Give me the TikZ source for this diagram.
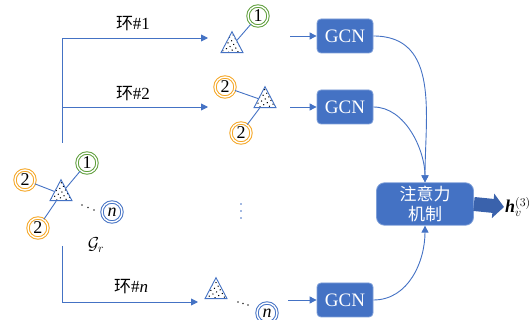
\documentclass[tikz,border=0pt]{standalone}
\usepackage{fontspec}
\setmainfont{Liberation Serif}
\newfontfamily\cjk{Noto Sans CJK SC}
\usetikzlibrary{arrows.meta,shapes.geometric,patterns.meta}
\definecolor{lineblue}{HTML}{4472C4}
\definecolor{boxblue}{HTML}{4472C4}
\definecolor{boxedge}{HTML}{7E9FD8}
\definecolor{darkblue}{HTML}{3A62AC}
\definecolor{ringgreen}{HTML}{5E9E3A}
\definecolor{ringorange}{HTML}{F5A623}
\definecolor{ringblue}{HTML}{4472C4}
\begin{document}
\begin{tikzpicture}[x=1pt,y=-1pt,
  link/.style={lineblue, line width=0.9pt},
  flow/.style={lineblue, line width=0.9pt, -{Triangle[length=7pt,width=7pt]}},
  ring/.style={circle, draw=#1, double=white, double distance=1.4pt, line width=1pt,
    minimum size=20pt, inner sep=0pt, font=\fontsize{18}{18}\selectfont},
  tri/.style={isosceles triangle, isosceles triangle stretches, shape border rotate=90,
    minimum width=22pt, minimum height=21pt, inner sep=0pt, draw=lineblue, line width=0.9pt,
    preaction={fill=white}, pattern={Dots[distance=4.2pt,radius=0.75pt,angle=30]}, pattern color=black},
  gcn/.style={rectangle, rounded corners=4pt, fill=boxblue, draw=boxedge, line width=0.8pt,
    minimum width=56pt, minimum height=34pt, text=white, font=\fontsize{19}{19}\selectfont},
  attbox/.style={rectangle, rounded corners=8pt, fill=boxblue, draw=boxedge, line width=0.8pt,
    minimum width=97pt, minimum height=41pt, text=white, align=center,
    font=\cjk\fontsize{17}{20}\selectfont},
  ringtext/.style={font=\fontsize{17}{17}\selectfont},
  dotmark/.style={circle, fill=#1, inner sep=0pt, minimum size=1.8pt}
]
\useasboundingbox (0,0) rectangle (531,320);

% ---- input graph G_r ----
\node[tri] (t0) at (61,194) {};
\node[ring=ringgreen] (a1) at (87,163) {1};
\node[ring=ringorange] (a2) at (25,180) {2};
\node[ring=ringorange] (a3) at (38,228) {2};
\node[ring=ringblue] (an) at (112,212) {\itshape n};
\draw[link] (a1) -- (t0);
\draw[link] (a2) -- (t0);
\draw[link] (a3) -- (t0);
\node[dotmark=black!80] at (82,205) {};
\node[dotmark=black!80] at (88,207.5) {};
\node[dotmark=black!80] at (94,210) {};
\node (gr) at (96,245) {\fontsize{18}{18}\selectfont$\mathcal{G}_r$};

% ---- ring 1 ----
\node[tri] (t1) at (232,46) {};
\node[ring=ringgreen] (b1) at (258,16) {1};
\draw[link] (b1) -- (t1);

% ---- ring 2 ----
\node[tri] (t2) at (265,101) {};
\node[ring=ringorange] (c1) at (225,87) {2};
\node[ring=ringorange] (c2) at (241,133) {2};
\draw[link] (c1) -- (t2);
\draw[link] (c2) -- (t2);

% ---- vertical ellipsis ----
\node[dotmark=lineblue] at (241,204) {};
\node[dotmark=lineblue] at (241,211) {};
\node[dotmark=lineblue] at (241,218) {};

% ---- ring n ----
\node[tri] (tn) at (216,292) {};
\node[ring=ringblue] (dn) at (267,313) {\itshape n};
\node[dotmark=black!80] at (238,302) {};
\node[dotmark=black!80] at (243,303.5) {};
\node[dotmark=black!80] at (248,305) {};

% ---- branching lines with ring labels ----
\coordinate (vtop) at (62,143);
\coordinate (k1) at (62,38);
\coordinate (e1) at (208,38);
\coordinate (k2) at (62,107);
\coordinate (e2) at (208,107);
\coordinate (vbot) at (62,246);
\coordinate (k3) at (62,302);
\coordinate (e3) at (198,302);
\draw[link] (vtop) -- (k1);
\draw[flow] (k1) -- (e1);
\draw[flow] (k2) -- (e2);
\draw[link] (vbot) -- (k3);
\draw[flow] (k3) -- (e3);
\node[ringtext] (l1) at (133,24) {{\cjk 环}\#1};
\node[ringtext] (l2) at (133,94) {{\cjk 环}\#2};
\node[ringtext] (l3) at (131,287) {{\cjk 环}\#\textit{n}};

% ---- GCN blocks ----
\node[gcn] (g1) at (345,36) {GCN};
\node[gcn] (g2) at (345,107) {GCN};
\node[gcn] (g3) at (345,300) {GCN};
\coordinate (s1) at (290,36);
\coordinate (s2) at (290,107);
\coordinate (s3) at (288,300);
\draw[flow] (s1) -- (g1);
\draw[flow] (s2) -- (g2);
\draw[flow] (s3) -- (g3);

% ---- attention ----
\node[attbox] (att) at (425,204) {注意力\\机制};
\draw[flow] (g1.east) to[out=0,in=90,looseness=1.1] (att.north);
\draw[flow] (g2.east) to[out=0,in=90,looseness=0.9] (att.north);
\draw[flow] (g3.east) to[out=0,in=-90,looseness=1.0] (att.south);

% ---- output ----
\node[anchor=west, inner sep=1pt, font=\fontsize{18}{18}\selectfont] (hv) at (504,207)
  {{\bfseries\itshape h}$_{v}^{(3)}$};
\draw[darkblue, line width=14pt, -{Triangle[length=11pt,width=24pt]}] (att.east) -- (hv.west);
\end{tikzpicture}
\end{document}
